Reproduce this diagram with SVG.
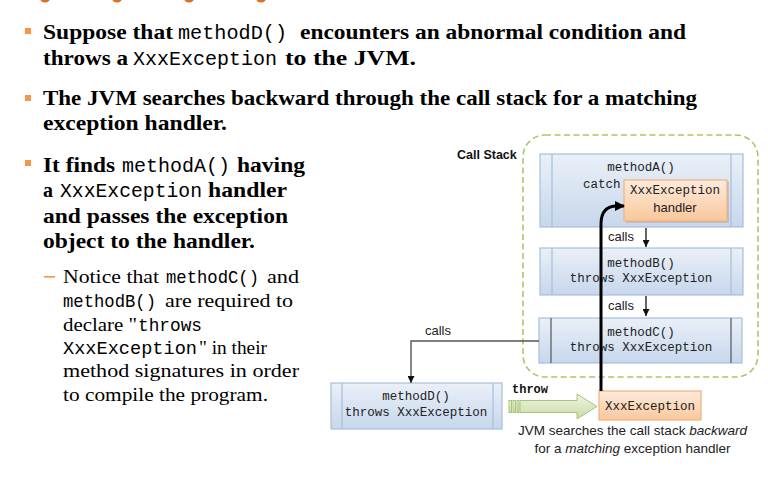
<svg xmlns="http://www.w3.org/2000/svg" width="768" height="477" viewBox="0 0 768 477">
<style>
.b{font-family:"Liberation Serif",serif;font-weight:bold;font-size:21px;fill:#000}
.m{font-family:"Liberation Mono",monospace;font-size:20px;fill:#000}
.r{font-family:"Liberation Serif",serif;font-size:18.5px;fill:#000}
.ms{font-family:"Liberation Mono",monospace;font-size:18px;fill:#000}
.dm{font-family:"Liberation Mono",monospace;font-size:12.5px;fill:#222}
.ds{font-family:"Liberation Sans",sans-serif;font-size:13px;fill:#222}
.box{fill:url(#blue);stroke:#A7BEDC;stroke-width:1.2}
.inner{stroke:#A7BEDC;stroke-width:1.2}
.innerd{stroke:#555;stroke-width:1.2}
.orange{fill:url(#org);stroke:#F2B07E;stroke-width:1.2}
.thin{fill:none;stroke:#111;stroke-width:1.3}
.bul{fill:#F79646}
</style>
<defs>
<linearGradient id="blue" x1="0" y1="0" x2="0" y2="1">
<stop offset="0" stop-color="#EAF0F8"/>
<stop offset="1" stop-color="#C7D7EC"/>
</linearGradient>
<linearGradient id="org" x1="0" y1="0" x2="0" y2="1">
<stop offset="0" stop-color="#FDEBDC"/>
<stop offset="1" stop-color="#FAC79C"/>
</linearGradient>
<linearGradient id="grn" x1="0" y1="0" x2="0" y2="1">
<stop offset="0" stop-color="#EEF4E2"/>
<stop offset="1" stop-color="#C9DCA4"/>
</linearGradient>
<radialGradient id="dot" cx="0.5" cy="0.3" r="0.7">
<stop offset="0" stop-color="#F79A45"/>
<stop offset="1" stop-color="#D9641A"/>
</radialGradient>
<marker id="ah" viewBox="0 0 10 10" refX="10" refY="5" markerWidth="7" markerHeight="7" markerUnits="userSpaceOnUse" orient="auto">
<path d="M0,0 L10,5 L0,10 Z" fill="#111"/>
</marker>
<marker id="ahb" viewBox="0 0 10 10" refX="9" refY="5" markerWidth="11" markerHeight="10" markerUnits="userSpaceOnUse" orient="auto">
<path d="M0,0 L10,5 L0,10 Z" fill="#000"/>
</marker>
</defs>

<g id="top-dots">
<circle cx="45" cy="-3" r="5.5" fill="url(#dot)"/>
<circle cx="117" cy="-3" r="5.5" fill="url(#dot)"/>
<circle cx="189" cy="-3" r="5.5" fill="url(#dot)"/>
<circle cx="261" cy="-3" r="5.5" fill="url(#dot)"/>
</g>

<g id="bullet1">
<rect class="bul" x="25" y="28" width="6" height="6"/>
<text class="b" x="43" y="39" textLength="130" lengthAdjust="spacingAndGlyphs">Suppose that</text>
<text class="m" x="178" y="39" textLength="109" lengthAdjust="spacingAndGlyphs">methodD()</text>
<text class="b" x="300" y="39" textLength="386" lengthAdjust="spacingAndGlyphs">encounters an abnormal condition and</text>
<text class="b" x="43" y="65" textLength="85" lengthAdjust="spacingAndGlyphs">throws a</text>
<text class="m" x="133" y="65" textLength="144" lengthAdjust="spacingAndGlyphs">XxxException</text>
<text class="b" x="285" y="65" textLength="131" lengthAdjust="spacingAndGlyphs">to the JVM.</text>
</g>

<g id="bullet2">
<rect class="bul" x="25" y="95" width="6" height="6"/>
<text class="b" x="43" y="105" textLength="654" lengthAdjust="spacingAndGlyphs">The JVM searches backward through the call stack for a matching</text>
<text class="b" x="43" y="130" textLength="184" lengthAdjust="spacingAndGlyphs">exception handler.</text>
</g>

<g id="bullet3">
<rect class="bul" x="25" y="160" width="6" height="6"/>
<text class="b" x="43" y="172" textLength="72" lengthAdjust="spacingAndGlyphs">It finds</text>
<text class="m" x="122" y="172" textLength="108" lengthAdjust="spacingAndGlyphs">methodA()</text>
<text class="b" x="237" y="172" textLength="68" lengthAdjust="spacingAndGlyphs">having</text>
<text class="b" x="43" y="197" textLength="10" lengthAdjust="spacingAndGlyphs">a</text>
<text class="m" x="60" y="197" textLength="142" lengthAdjust="spacingAndGlyphs">XxxException</text>
<text class="b" x="208" y="197" textLength="79" lengthAdjust="spacingAndGlyphs">handler</text>
<text class="b" x="43" y="223" textLength="245" lengthAdjust="spacingAndGlyphs">and passes the exception</text>
<text class="b" x="43" y="248" textLength="212" lengthAdjust="spacingAndGlyphs">object to the handler.</text>
</g>

<g id="subbullet">
<rect x="44" y="276" width="11" height="1.6" fill="#F79646"/>
<text class="r" x="63" y="283" textLength="96" lengthAdjust="spacingAndGlyphs">Notice that</text>
<text class="ms" x="166" y="283" textLength="93" lengthAdjust="spacingAndGlyphs">methodC()</text>
<text class="r" x="267" y="283" textLength="32" lengthAdjust="spacingAndGlyphs">and</text>
<text class="ms" x="63" y="307" textLength="93" lengthAdjust="spacingAndGlyphs">methodB()</text>
<text class="r" x="165" y="307" textLength="128" lengthAdjust="spacingAndGlyphs">are required to</text>
<text class="r" x="63" y="331" textLength="74" lengthAdjust="spacingAndGlyphs">declare "</text>
<text class="ms" x="138" y="331" textLength="64" lengthAdjust="spacingAndGlyphs">throws</text>
<text class="ms" x="63" y="354" textLength="134" lengthAdjust="spacingAndGlyphs">XxxException</text>
<text class="r" x="199" y="354" textLength="68" lengthAdjust="spacingAndGlyphs">" in their</text>
<text class="r" x="63" y="377" textLength="236" lengthAdjust="spacingAndGlyphs">method signatures in order</text>
<text class="r" x="63" y="401" textLength="205" lengthAdjust="spacingAndGlyphs">to compile the program.</text>
</g>

<g id="call-stack">
<rect x="523" y="135" width="235" height="242" rx="22" fill="none" stroke="#A9C86C" stroke-width="1.6" stroke-dasharray="6,3.5"/>
<text x="457" y="159" style="font-family:'Liberation Sans',sans-serif;font-weight:bold;font-size:12.5px;fill:#111">Call Stack</text>
</g>

<g id="methodA">
<rect class="box" x="540" y="154" width="203" height="73"/>
<line class="inner" x1="552" y1="154" x2="552" y2="227"/>
<line class="inner" x1="731" y1="154" x2="731" y2="227"/>
<text class="dm" x="641" y="171" text-anchor="middle">methodA()</text>
<text class="dm" x="583" y="188">catch</text>
</g>

<g id="handler">
<rect x="626" y="182" width="103" height="41" fill="#B9A89A" opacity="0.55"/>
<rect class="orange" x="624" y="180" width="103" height="41"/>
<text class="dm" x="675" y="194" text-anchor="middle">XxxException</text>
<text class="ds" x="675" y="212" text-anchor="middle">handler</text>
</g>

<g id="methodB">
<rect class="box" x="540" y="248" width="203" height="47"/>
<line class="inner" x1="552" y1="248" x2="552" y2="295"/>
<line class="inner" x1="731" y1="248" x2="731" y2="295"/>
<text class="dm" x="641" y="267" text-anchor="middle">methodB()</text>
<text class="dm" x="641" y="282" text-anchor="middle">throws XxxException</text>
</g>

<g id="methodC">
<rect class="box" x="539" y="318" width="203" height="45"/>
<line class="innerd" x1="551" y1="318" x2="551" y2="363"/>
<line class="innerd" x1="731" y1="318" x2="731" y2="363"/>
<text class="dm" x="641" y="336" text-anchor="middle">methodC()</text>
<text class="dm" x="641" y="351" text-anchor="middle">throws XxxException</text>
</g>

<g id="methodD">
<rect class="box" x="331" y="383" width="171" height="46"/>
<line class="inner" x1="342" y1="383" x2="342" y2="429"/>
<line class="inner" x1="493" y1="383" x2="493" y2="429"/>
<text class="dm" x="416" y="400" text-anchor="middle">methodD()</text>
<text class="dm" x="416" y="416" text-anchor="middle">throws XxxException</text>
</g>

<g id="exception">
<rect class="orange" x="599" y="391" width="102" height="29"/>
<text class="dm" x="650" y="410" text-anchor="middle">XxxException</text>
</g>

<g id="connectors">
<line class="thin" x1="646" y1="228" x2="646" y2="247" marker-end="url(#ah)"/>
<text class="ds" x="608" y="241">calls</text>
<line class="thin" x1="646" y1="296" x2="646" y2="316" marker-end="url(#ah)"/>
<text class="ds" x="608" y="310">calls</text>
<path d="M539,341 H411 V383" fill="none" stroke="#555" stroke-width="1.4" marker-end="url(#ah)"/>
<text class="ds" x="425" y="335">calls</text>
<path d="M601,391 V224 Q601,206 617,206 L624,206" fill="none" stroke="#000" stroke-width="3" marker-end="url(#ahb)"/>
<g id="throw-arrow" fill="url(#grn)" stroke="#A9C47A" stroke-width="1">
<rect x="509" y="400.5" width="2.5" height="12"/>
<rect x="513" y="400.5" width="2.5" height="12"/>
<rect x="517" y="400.5" width="2" height="12"/>
<path d="M520,400.5 H577 V394 L597,406.5 L577,419 V412.5 H520 Z"/>
</g>
<text x="512" y="393" style="font-family:'Liberation Mono',monospace;font-weight:bold;font-size:12px;fill:#111">throw</text>
</g>

<g id="caption">
<text x="632.5" y="435" text-anchor="middle" style="font-family:'Liberation Sans',sans-serif;font-size:13.5px;fill:#222">JVM searches the call stack <tspan font-style="italic">backward</tspan></text>
<text x="632.5" y="453" text-anchor="middle" style="font-family:'Liberation Sans',sans-serif;font-size:13.5px;fill:#222">for a <tspan font-style="italic">matching</tspan> exception handler</text>
</g>
</svg>
